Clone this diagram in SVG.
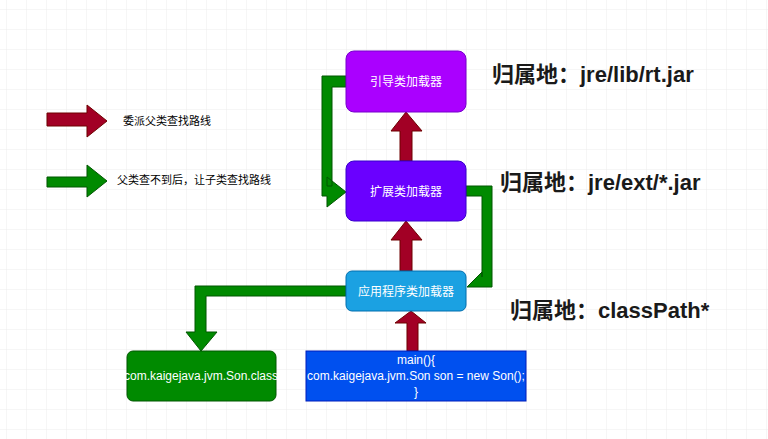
<svg xmlns="http://www.w3.org/2000/svg" width="768" height="439" viewBox="0 0 768 439">
<defs>
<pattern id="g" width="20" height="20" patternUnits="userSpaceOnUse" x="7" y="10"><path d="M20 0V20M0 20H20" fill="none" stroke="#ececec" stroke-width="1"/></pattern>
<style>
.n{font-family:"Liberation Sans","Noto Sans CJK SC",sans-serif;font-size:12px;fill:#fff;text-anchor:middle}
.big{font-family:"Liberation Sans","Noto Sans CJK SC",sans-serif;font-size:22px;font-weight:bold;fill:#1a1a1a}
.lg{font-family:"Noto Sans CJK SC",sans-serif;font-size:11px;fill:#000}
.r{fill:#a20025;stroke:#6f0000}
.gr{fill:#008a00;stroke:#005700}
</style>
</defs>
<rect width="768" height="439" fill="#fff"/>
<rect width="768" height="439" fill="url(#g)"/>
<g id="connectors">
<polygon class="r" points="400,161 400,131 391,131 406,112 422,131 412,131 412,161"/>
<polygon class="r" points="400,271 400,240 391,240 406,221 422,240 412,240 412,271"/>
<polygon class="r" points="407,351 407,323 395,323 411,311 426,323 418,323 418,351"/>
<polygon class="gr" points="346,76 322,76 322,196 327,196 327,207 346,192 327,177 327,186 332,186 332,87 346,87"/>
<polygon class="gr" points="466,186 492,186 492,287 467,287 482,272 482,277 482,277 482,196 466,196"/>
<polygon class="gr" points="346,286 195,286 195,332 186,332 201,351 217,332 206,332 206,296 346,296"/>
</g>
<g id="legend">
<polygon class="r" points="47,113 87,113 87,105 107,121 87,137 87,126 47,126"/>
<polygon class="gr" points="47,177 87,177 87,165 107,181 87,197 87,187 47,187"/>
<text class="lg" x="123" y="125">委派父类查找路线</text>
<text class="lg" x="117" y="184">父类查不到后，让子类查找路线</text>
</g>
<g id="boot"><rect x="346" y="51" width="120" height="61" rx="8" fill="#aa00ff" stroke="#7700cc"/><text class="n" x="406" y="86">引导类加载器</text></g>
<g id="ext"><rect x="346" y="161" width="120" height="60" rx="8" fill="#6a00ff" stroke="#3700cc"/><text class="n" x="406" y="196">扩展类加载器</text></g>
<g id="app"><rect x="346" y="271" width="120" height="40" rx="6" fill="#1ba1e2" stroke="#006eaf"/><text class="n" x="406" y="296">应用程序类加载器</text></g>
<g id="son"><rect x="127" y="351" width="149" height="50" rx="6" fill="#008a00" stroke="#005700"/><text class="n" x="201" y="380">com.kaigejava.jvm.Son.class</text></g>
<g id="main"><rect x="306" y="351" width="220" height="50" fill="#0050ef" stroke="#001dbc"/><text class="n" x="416" y="364">main(){</text><text class="n" x="416" y="380">com.kaigejava.jvm.Son son = new Son();</text><text class="n" x="416" y="396">}</text></g>
<g id="labels">
<text class="big" x="492" y="82">归属地：jre/lib/rt.jar</text>
<text class="big" x="500" y="190">归属地：jre/ext/*.jar</text>
<text class="big" x="510" y="318">归属地：classPath*</text>
</g>
</svg>
